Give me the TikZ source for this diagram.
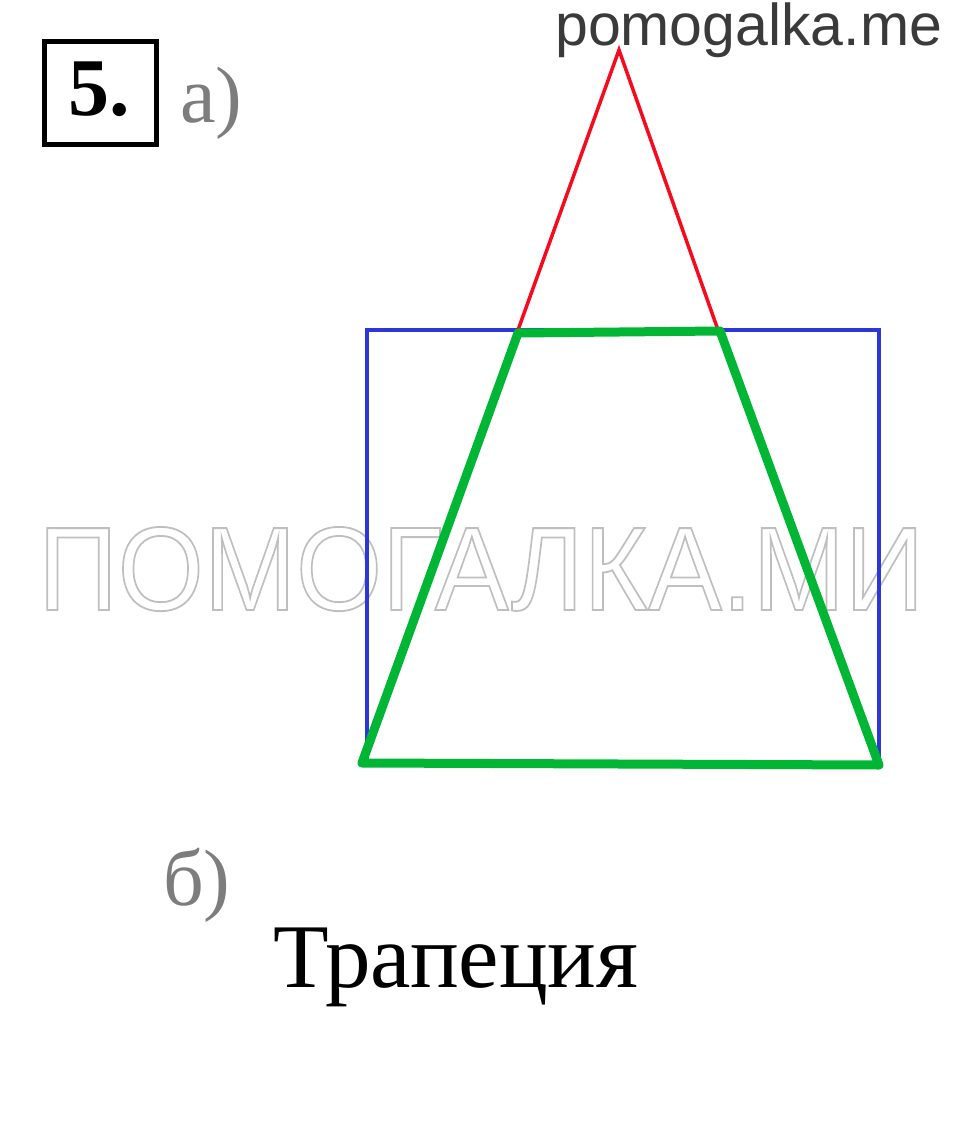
\documentclass[tikz,border=0pt]{standalone}
\usepackage{fontspec}
\setmainfont{Liberation Serif}
\setsansfont{Liberation Sans}
\definecolor{sqblue}{RGB}{45,55,215}
\definecolor{trired}{RGB}{245,10,30}
\definecolor{trapgreen}{RGB}{0,182,52}
\definecolor{labgray}{RGB}{125,125,125}
\definecolor{sitegray}{RGB}{58,58,58}
\newcommand{\outlinetext}[1]{\special{pdf:literal direct 1 Tr 1.8 w}#1\special{pdf:literal direct 0 Tr}}
\begin{document}
\begin{tikzpicture}[x=1pt,y=-1pt,
    lab/.style={inner sep=0pt,anchor=base west}]
    \useasboundingbox (0,0) rectangle (960,1137);
    % watermark
    \node[lab,text=gray!50,xscale=0.93] (wm) at (38,610)
        {\fontsize{119}{119}\sffamily\outlinetext{ПОМОГАЛКА.МИ}};
    % square, triangle, trapezoid
    \draw[sqblue,line width=4] (367,330) rectangle (879,763);
    \draw[trired,line width=3.5] (518,330) -- (619,50) -- (718,330);
    \draw[trapgreen,line width=9,line join=round]
        (518,333) -- (720,331) -- (879,765) -- (362,763) -- cycle;
    % labels
    \node[lab,text=sitegray] (site) at (555,46)
        {\fontsize{59}{59}\sffamily pomogalka.me};
    \draw[line width=5] (44,42) rectangle (156,144);
    \node[lab] (num) at (68,116) {\fontsize{82}{82}\selectfont\bfseries 5.};
    \node[lab,text=labgray] (parta) at (180,122) {\fontsize{80}{80}\selectfont a)};
    \node[lab,text=labgray] (partb) at (163,905) {\fontsize{80}{80}\selectfont б)};
    \node[lab] (answer) at (273,987) {\fontsize{91}{91}\selectfont Трапеция};
\end{tikzpicture}
\end{document}
